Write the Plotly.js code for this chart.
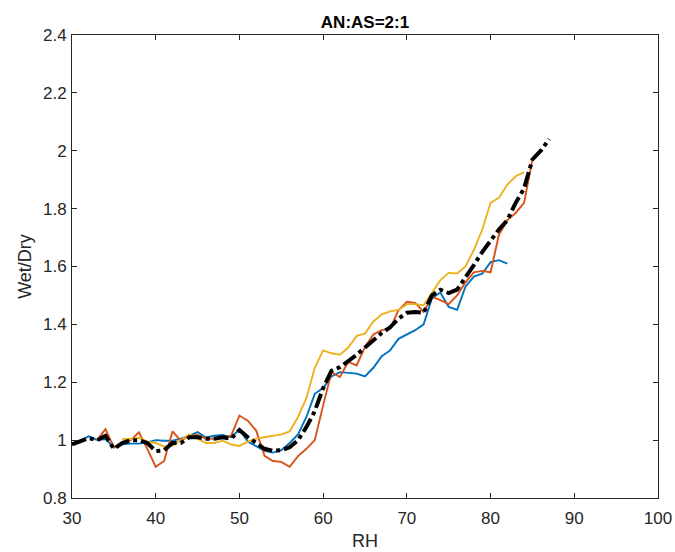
<!DOCTYPE html>
<html>
<head>
<meta charset="utf-8">
<script src="https://cdn.plot.ly/plotly-3.0.1.min.js"></script>
<style>html,body{margin:0;padding:0;background:#fff;}#chart{width:675px;height:552px;}</style>
</head>
<body>
<div id="chart"></div>
<script>
var blueRH = [30,31,32,33,34,35,36,37,38,39,40,41,42,43,44,45,46,47,48,49,50,51,52,53,54,55,56,57,58,59,60,61,62,63,64,65,66,67,68,69,70,71,72,73,74,75,76,77,78,79,80,81,82];
var blueVal = [0.985,1.000,1.013,1.000,1.004,0.975,0.986,0.988,0.988,0.992,1.000,0.998,0.998,1.005,1.015,1.028,1.009,1.015,1.018,1.010,1.036,0.995,0.980,0.963,0.957,0.965,0.990,1.020,1.080,1.160,1.180,1.220,1.235,1.233,1.230,1.220,1.250,1.290,1.310,1.350,1.365,1.380,1.400,1.490,1.510,1.460,1.450,1.530,1.565,1.575,1.615,1.622,1.610];

var redRH = [33,34,35,36,37,38,39,40,41,42,43,44,45,46,47,48,49,50,51,52,53,54,55,56,57,58,59,60,61,62,63,64,65,66,67,68,69,70,71,72,73,74,75,76,77,78,79,80,81,82,83,84,85,86];
var redVal = [1.000,1.038,0.975,0.990,1.000,1.027,0.970,0.908,0.928,1.030,0.998,1.015,1.018,1.005,1.005,1.010,1.015,1.085,1.067,1.033,0.946,0.928,0.925,0.908,0.945,0.970,1.000,1.120,1.235,1.218,1.270,1.258,1.322,1.365,1.380,1.385,1.449,1.478,1.474,1.443,1.495,1.484,1.470,1.500,1.545,1.580,1.585,1.580,1.710,1.760,1.785,1.820,1.970,2.000];

var yellowRH = [36,37,38,39,40,41,42,43,44,45,46,47,48,49,50,51,52,53,54,55,56,57,58,59,60,61,62,63,64,65,66,67,68,69,70,71,72,73,74,75,76,77,78,79,80,81,82,83,84];
var yellowVal = [1.004,1.004,1.008,0.995,0.990,0.978,0.980,1.000,1.020,1.005,0.990,0.990,0.998,0.985,0.980,0.995,1.005,1.010,1.015,1.020,1.030,1.080,1.145,1.250,1.310,1.300,1.295,1.320,1.360,1.368,1.410,1.435,1.445,1.450,1.470,1.470,1.466,1.510,1.553,1.578,1.576,1.600,1.657,1.727,1.820,1.837,1.883,1.912,1.926];

var blackRH = [30,31,32,33,34,35,36,37,38,39,40,41,42,43,44,45,46,47,48,49,50,51,52,53,54,55,56,57,58,59,60,61,62,63,64,65,66,67,68,69,70,71,72,73,74,75,76,77,78,79,80,81,82,83,84,85,86,87];
var blackVal = [0.985,0.995,1.007,1.000,1.015,0.970,0.990,1.000,1.000,0.990,0.962,0.965,0.990,0.990,1.010,1.010,1.005,1.005,1.010,1.005,1.035,1.010,0.990,0.970,0.963,0.965,0.975,1.000,1.045,1.100,1.180,1.240,1.252,1.272,1.295,1.320,1.345,1.370,1.390,1.420,1.440,1.443,1.440,1.500,1.520,1.508,1.520,1.560,1.605,1.650,1.690,1.728,1.760,1.820,1.870,1.970,2.000,2.040];

var xTicks = [30,40,50,60,70,80,90,100];
var yTicks = [0.8,1,1.2,1.4,1.6,1.8,2,2.2,2.4];
var yTickText = ['0.8','1','1.2','1.4','1.6','1.8','2','2.2','2.4'];

var FONT = 'Liberation Sans, Arial, Helvetica, sans-serif';

var traces = [
  {x: blueRH, y: blueVal, mode: 'lines', line: {color: '#0072BD', width: 1.9}},
  {x: redRH, y: redVal, mode: 'lines', line: {color: '#D95319', width: 1.9}},
  {x: yellowRH, y: yellowVal, mode: 'lines', line: {color: '#EDB120', width: 1.9}},
  {x: blackRH, y: blackVal, mode: 'lines', line: {color: '#000000', width: 4, dash: '15px,4px,4px,4px'}}
];

var axisCommon = {
  showgrid: false, zeroline: false, showline: true, linecolor: '#262626', linewidth: 1,
  mirror: 'ticks', ticks: 'inside', ticklen: 5, tickwidth: 1, tickcolor: '#262626',
  tickfont: {family: FONT, size: 17, color: '#262626'}
};

var layout = {
  width: 675, height: 552,
  margin: {l: 72, r: 17, t: 35, b: 54, pad: 0},
  paper_bgcolor: '#ffffff', plot_bgcolor: '#ffffff',
  showlegend: false,
  title: {text: '<b>AN:AS=2:1</b>', xref: 'paper', x: 0.5, xanchor: 'center',
          yref: 'paper', y: 1, yanchor: 'bottom', pad: {b: 7},
          font: {family: FONT, size: 17, color: '#000000'}},
  xaxis: Object.assign({}, axisCommon, {
    range: [30, 100], tickvals: xTicks, ticktext: xTicks.map(String), ticklabelstandoff: 5,
    title: {text: 'RH', standoff: 6, font: {family: FONT, size: 18, color: '#262626'}}
  }),
  yaxis: Object.assign({}, axisCommon, {
    range: [0.8, 2.4], tickvals: yTicks, ticktext: yTickText, ticklabelstandoff: 1,
    title: {text: 'Wet/Dry', standoff: 6, font: {family: FONT, size: 18, color: '#262626'}}
  })
};

Plotly.newPlot('chart', traces, layout, {displayModeBar: false, staticPlot: true});
</script>
</body>
</html>
